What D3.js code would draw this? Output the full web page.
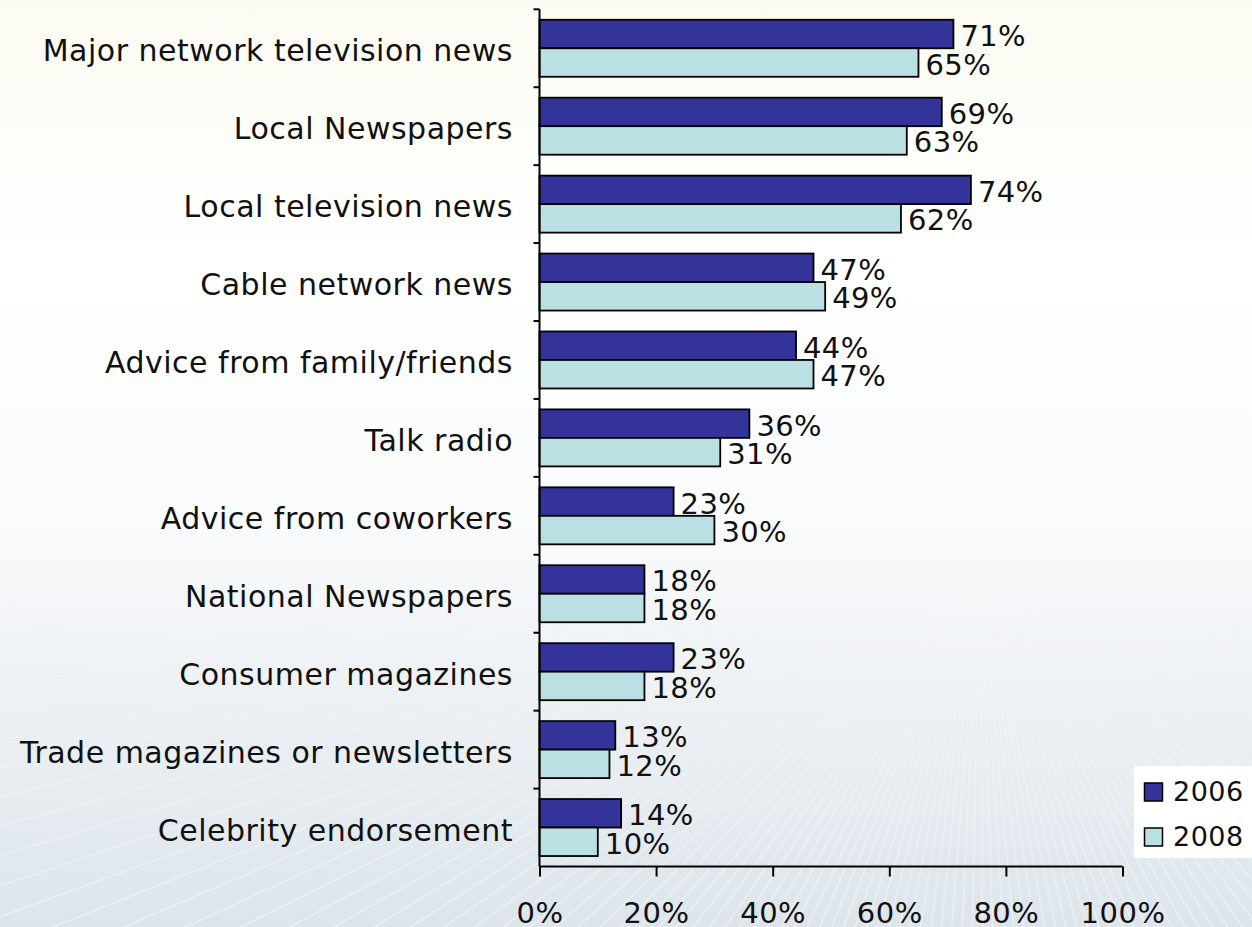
<!DOCTYPE html>
<html>
<head>
<meta charset="utf-8">
<script src="https://cdn.jsdelivr.net/npm/d3@7/dist/d3.min.js"></script>
<style>
  html, body { margin: 0; padding: 0; }
  body { width: 1252px; height: 927px; overflow: hidden; }
  svg { display: block; font-family: "DejaVu Sans", Verdana, sans-serif; }
</style>
</head>
<body>
<svg id="chart" width="1252" height="927"></svg>
<script>
// Sources of information, share of respondents
const categories = [
  "Major network television news",
  "Local Newspapers",
  "Local television news",
  "Cable network news",
  "Advice from family/friends",
  "Talk radio",
  "Advice from coworkers",
  "National Newspapers",
  "Consumer magazines",
  "Trade magazines or newsletters",
  "Celebrity endorsement"
];
const seriesNames = ["2006", "2008"];
const values2006 = [71, 69, 74, 47, 44, 36, 23, 18, 23, 13, 14];
const values2008 = [65, 63, 62, 49, 47, 31, 30, 18, 18, 12, 10];
const xTickValues = [0, 20, 40, 60, 80, 100];
const seriesColors = ["#333399", "#bbe0e3"];

const W = 1252, H = 927;
const svg = d3.select("#chart");

// Soft page background
const defs = svg.append("defs");
const bg = defs.append("linearGradient").attr("id", "bg")
  .attr("x1", 0).attr("y1", 0).attr("x2", 0).attr("y2", 1);
[[0, "#fbfbf1"], [0.12, "#fdfdf8"], [0.3, "#ffffff"], [0.55, "#fafbfc"],
 [0.75, "#edf1f4"], [1, "#dde5eb"]].forEach(([o, c]) =>
  bg.append("stop").attr("offset", o).attr("stop-color", c));
svg.append("rect").attr("width", W).attr("height", H).attr("fill", "url(#bg)");

// Faint light streaks fanning across the lower half
const fade = defs.append("linearGradient").attr("id", "streakFade")
  .attr("x1", 0).attr("y1", 0).attr("x2", 0).attr("y2", 1);
fade.append("stop").attr("offset", 0).attr("stop-color", "#fff").attr("stop-opacity", 0);
fade.append("stop").attr("offset", 1).attr("stop-color", "#fff").attr("stop-opacity", 0.55);
defs.append("mask").attr("id", "streakMask")
  .append("rect").attr("x", 0).attr("y", 520).attr("width", W).attr("height", H - 520)
  .attr("fill", "url(#streakFade)");
const streaks = svg.append("g").attr("mask", "url(#streakMask)");
const hub = [980, 560];
d3.range(0, 180, 1.6).forEach(a => {
  const r = a * Math.PI / 180;
  streaks.append("line")
    .attr("x1", hub[0]).attr("y1", hub[1])
    .attr("x2", hub[0] + Math.cos(r) * 1600).attr("y2", hub[1] + Math.sin(r) * 1600)
    .attr("stroke", "#ffffff").attr("stroke-width", 1.4).attr("opacity", 0.8);
});

const plot = { left: 539.5, right: 1122.5, top: 9.3, bottom: 866.5 };

const x = d3.scaleLinear().domain([0, 100]).range([plot.left, plot.right]);
const y = d3.scaleBand().domain(categories).range([plot.top, plot.bottom]).padding(0);
const sub = d3.scaleBand().domain(seriesNames).range([0, y.bandwidth()])
  .paddingInner(0).paddingOuter(0.367);

const rows = categories.map((c, i) => ({
  cat: c,
  vals: [
    { s: seriesNames[0], v: values2006[i] },
    { s: seriesNames[1], v: values2008[i] }
  ]
}));

// Bars
const groups = svg.append("g").selectAll("g").data(rows).join("g")
  .attr("transform", d => `translate(0,${y(d.cat)})`);

groups.selectAll("rect").data(d => d.vals).join("rect")
  .attr("x", x(0))
  .attr("y", d => sub(d.s))
  .attr("width", d => x(d.v) - x(0))
  .attr("height", sub.bandwidth())
  .attr("fill", (d, i) => seriesColors[i])
  .attr("stroke", "#000")
  .attr("stroke-width", 1.8);

// Value labels
groups.selectAll("text").data(d => d.vals).join("text")
  .attr("x", d => x(d.v) + 7)
  .attr("y", d => sub(d.s) + sub.bandwidth() / 2 + 12)
  .attr("font-size", 29)
  .attr("letter-spacing", 0.4)
  .attr("fill", "#111")
  .text(d => d.v + "%");

// Category axis (ticks sit between categories)
const yAxis = svg.append("g");
yAxis.append("line")
  .attr("x1", plot.left).attr("x2", plot.left)
  .attr("y1", plot.top).attr("y2", plot.bottom)
  .attr("stroke", "#000").attr("stroke-width", 2);
const boundaries = categories.map(c => y(c));
yAxis.selectAll("line.tick").data(boundaries).join("line")
  .attr("class", "tick")
  .attr("x1", plot.left - 6).attr("x2", plot.left)
  .attr("y1", d => d).attr("y2", d => d)
  .attr("stroke", "#000").attr("stroke-width", 2);
yAxis.selectAll("text").data(categories).join("text")
  .attr("x", 513)
  .attr("y", d => y(d) + y.bandwidth() / 2 + 13)
  .attr("text-anchor", "end")
  .attr("font-size", 30)
  .attr("letter-spacing", 0.5)
  .attr("fill", "#111")
  .text(d => d);

// Value axis
const xAxis = svg.append("g")
  .attr("transform", `translate(0,${plot.bottom})`)
  .call(d3.axisBottom(x).tickValues(xTickValues).tickSize(10).tickPadding(26)
    .tickFormat(d => d + "%"));
xAxis.select(".domain").attr("stroke", "#000").attr("stroke-width", 2)
  .attr("d", `M${plot.left},0H${plot.right}`);
xAxis.selectAll(".tick line").attr("stroke", "#000").attr("stroke-width", 2);
xAxis.selectAll(".tick text")
  .attr("font-size", 29)
  .attr("letter-spacing", 0.5)
  .attr("font-family", "DejaVu Sans, Verdana, sans-serif")
  .attr("fill", "#111");

// Legend
const legend = svg.append("g");
legend.append("rect")
  .attr("x", 1134).attr("y", 766).attr("width", 118).attr("height", 92)
  .attr("fill", "#fff");
const legendY = d3.scalePoint().domain(seriesNames).range([792, 837]);
seriesNames.forEach((s, i) => {
  legend.append("rect")
    .attr("x", 1144.5).attr("y", legendY(s) - 9)
    .attr("width", 18).attr("height", 18)
    .attr("fill", seriesColors[i])
    .attr("stroke", "#000").attr("stroke-width", 1.5);
  legend.append("text")
    .attr("x", 1173).attr("y", legendY(s) + 9)
    .attr("font-size", 27)
    .attr("letter-spacing", 0.5)
    .attr("fill", "#111")
    .text(s);
});
</script>
</body>
</html>
